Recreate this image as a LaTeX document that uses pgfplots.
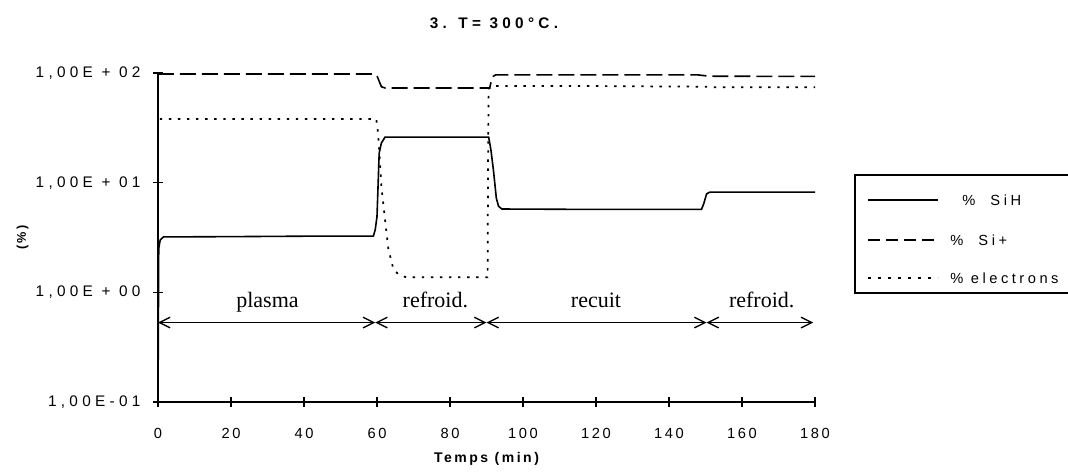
\documentclass[border=0pt]{standalone}
\usepackage{fontspec}
\setmainfont{Liberation Sans}
\newfontfamily\tickfont[LetterSpace=18]{Liberation Sans}
\newfontfamily\ytickfont[LetterSpace=28]{Liberation Sans}
\newfontfamily\legfont[LetterSpace=24]{Liberation Sans}
\newfontfamily\titlefont[LetterSpace=28]{Liberation Sans}
\newfontfamily\phasefont{Liberation Serif}
\usepackage{pgfplots}
\pgfplotsset{compat=1.18}
\usetikzlibrary{arrows.meta}

% 1 px of the reference = 0.75pt
\begin{document}
\begin{tikzpicture}
\useasboundingbox (-118.5pt,-53.25pt) rectangle (682.5pt,301.5pt);
\begin{axis}[
  at={(0,0)}, anchor=south west,
  scale only axis, width=492.75pt, height=246.75pt,
  xmin=0, xmax=180, ymin=0.1, ymax=100, ymode=log,
  axis x line*=bottom, axis y line*=left,
  axis line style={line width=0.9pt},
  xtick={0,20,...,180},
  ytick={0.1,1,10,100},
  yticklabels={},
  yminorticks=false,
  tick align=center, major tick length=7pt,
  tick style={line width=0.8pt, black},
  /pgf/number format/assume math mode=true,
  xticklabel style={font=\tickfont\fontsize{11}{12}\selectfont, yshift=-13pt},
  clip=false,
]
% % SiH
\addplot[black, line width=1.2pt] coordinates {
(0,0.1)(0.2,2.5)(0.6,3.0)(1.5,3.2)(20,3.22)(40,3.25)(59.0,3.25)(59.5,3.7)
(60.0,4.9)(60.6,18.6)(61.2,23)(62.2,26)(75,26)(90.6,26)(91.2,20)(91.9,13)
(92.7,7.2)(93.3,6.1)(94.2,5.75)(120,5.7)(148.9,5.7)(149.5,6.4)(150.3,7.9)
(151.2,8.2)(180,8.2)};
% % Si+
\addplot[black, line width=1.2pt, dash pattern=on 12pt off 4.5pt] coordinates {
(0,98)(59.2,98)(59.9,96)(61.2,75)(62.2,73)(90.9,73)(91.3,85)(91.8,93)
(92.5,96)(120,96)(148,96)(151,93.5)(180,93)};
% % electrons
\addplot[black, line width=1.3pt, dash pattern=on 1.8pt off 5pt] coordinates {
(0.5,38)(59.8,38)(60.2,30)(60.6,20)(61.2,9.2)(62.2,4.6)(63.1,2.5)(64.5,1.62)
(66,1.45)(68,1.37)(90.3,1.37)(90.45,20)(90.6,72)(91.5,76)(120,76)(150,75)
(152,74)(180,74)};

% y tick labels
\node[anchor=east, inner sep=0pt, font=\ytickfont\fontsize{11.5}{12}\selectfont] at (axis cs:0,100) [xshift=-13pt] {1,00E + 02};
\node[anchor=east, inner sep=0pt, font=\ytickfont\fontsize{11.5}{12}\selectfont] at (axis cs:0,10) [xshift=-13pt] {1,00E + 01};
\node[anchor=east, inner sep=0pt, font=\ytickfont\fontsize{11.5}{12}\selectfont] at (axis cs:0,1) [xshift=-13pt] {1,00E + 00};
\node[anchor=east, inner sep=0pt, font=\ytickfont\fontsize{11.5}{12}\selectfont] at (axis cs:0,0.1) [xshift=-13pt] {1,00E-01};

% process phases
\draw[line width=1pt, {Straight Barb[length=8pt,width=8pt]}-{Straight Barb[length=8pt,width=8pt]}]
  (axis cs:0,0.53) -- (axis cs:59.5,0.53);
\draw[line width=1pt, {Straight Barb[length=8pt,width=8pt]}-{Straight Barb[length=8pt,width=8pt]}]
  (axis cs:59.5,0.53) -- (axis cs:90.0,0.53);
\draw[line width=1pt, {Straight Barb[length=8pt,width=8pt]}-{Straight Barb[length=8pt,width=8pt]}]
  (axis cs:90.0,0.53) -- (axis cs:150.3,0.53);
\draw[line width=1pt, {Straight Barb[length=8pt,width=8pt]}-{Straight Barb[length=8pt,width=8pt]}]
  (axis cs:150.3,0.53) -- (axis cs:179.5,0.53);
\node[anchor=base, font=\phasefont\fontsize{16.5}{18}\selectfont] at (axis cs:30,0.73) {plasma};
\node[anchor=base, font=\phasefont\fontsize{16.5}{18}\selectfont] at (axis cs:76,0.73) {refroid.};
\node[anchor=base, font=\phasefont\fontsize{16.5}{18}\selectfont] at (axis cs:120,0.73) {recuit};
\node[anchor=base, font=\phasefont\fontsize{16.5}{18}\selectfont] at (axis cs:165.4,0.73) {refroid.};
\end{axis}

\node[font=\titlefont\bfseries\fontsize{11.5}{13}\selectfont] at (252pt,284pt) {3. T= 300°C.};
\node[font=\tickfont\bfseries\fontsize{10.5}{12}\selectfont] at (246.4pt,-42.75pt) {Temps (min)};
\node[rotate=90, font=\tickfont\bfseries\fontsize{9.5}{11}\selectfont] at (-101.6pt,123.4pt) {(\%)};

% legend box
\draw[line width=0.9pt] (685pt,170.25pt) -- (522.75pt,170.25pt) -- (522.75pt,81.75pt) -- (685pt,81.75pt);
\draw[line width=1.2pt] (532.5pt,151.5pt) -- (585pt,151.5pt);
\draw[line width=1.2pt, dash pattern=on 9pt off 4.5pt] (532.5pt,121.5pt) -- (585pt,121.5pt);
\draw[line width=1.2pt, dash pattern=on 2pt off 5.5pt] (532.5pt,93pt) -- (585pt,93pt);
\node[anchor=west, inner sep=0pt, font=\legfont\fontsize{11}{12}\selectfont] at (603pt,151.5pt) {\%\ \ SiH};
\node[anchor=west, inner sep=0pt, font=\legfont\fontsize{11}{12}\selectfont] at (594pt,121.5pt) {\%\ \ Si+};
\node[anchor=west, inner sep=0pt, font=\legfont\fontsize{11}{12}\selectfont] at (594pt,93pt) {\% electrons};
\end{tikzpicture}
\end{document}
